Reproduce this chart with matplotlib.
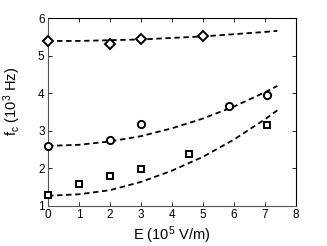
import matplotlib
matplotlib.use("Agg")
import matplotlib.pyplot as plt

plt.rcParams['font.family'] = ['Liberation Sans', 'DejaVu Sans']
plt.rcParams['mathtext.fontset'] = 'custom'
plt.rcParams['mathtext.rm'] = 'Liberation Sans'
plt.rcParams['mathtext.it'] = 'Liberation Sans:italic'

# Measured data
E_diamond = [0, 2, 3, 5]
fc_diamond = [5.40, 5.33, 5.44, 5.54]
E_circle = [0, 2, 3, 5.84, 7.05]
fc_circle = [2.59, 2.77, 3.18, 3.67, 3.97]
E_square = [0, 1, 2, 3, 4.54, 7.05]
fc_square = [1.28, 1.58, 1.79, 1.98, 2.39, 3.16]

# Fit curves
E_fit = [0, 1, 2, 3, 4, 5, 6, 7, 7.4]
fit_diamond = [5.40, 5.40, 5.42, 5.44, 5.48, 5.52, 5.58, 5.64, 5.67]
fit_circle = [2.60, 2.63, 2.72, 2.86, 3.07, 3.33, 3.65, 4.03, 4.20]
fit_square = [1.27, 1.31, 1.42, 1.64, 1.94, 2.31, 2.77, 3.31, 3.55]

xticks = [0, 1, 2, 3, 4, 5, 6, 7, 8]
yticks = [1, 2, 3, 4, 5, 6]

fig = plt.figure(figsize=(3.27, 2.46), dpi=100)
ax = fig.add_axes([0.147, 0.163, 0.758, 0.762])

for yf in (fit_diamond, fit_circle, fit_square):
    ax.plot(E_fit, yf, color='black', lw=1.3, dashes=(3, 2), zorder=2)

mk = dict(linestyle='none', mfc='white', mec='black', mew=1.4, zorder=3, clip_on=False)
ax.plot(E_diamond, fc_diamond, marker='D', ms=4.6, **mk)
ax.plot(E_circle, fc_circle, marker='o', ms=5.2, **mk)
ax.plot(E_square, fc_square, marker='s', ms=3.8, **mk)

ax.set_xlim(0, 8)
ax.set_ylim(1, 6)
ax.set_xticks(xticks)
ax.set_yticks(yticks)
ax.tick_params(direction='in', top=True, right=True, labelsize=8.5, length=3, width=0.6, pad=2.5)
for name, s in ax.spines.items():
    s.set_linewidth(0.8)
    if name in ('left', 'bottom'):
        s.set_color('#555555')
ax.set_xlabel('E (10$^5$ V/m)', fontsize=10.5, labelpad=2)
ax.set_ylabel('f$_\\mathrm{c}$ (10$^3$ Hz)', fontsize=10.5)
ax.yaxis.set_label_coords(-0.1, 0.555)

fig.savefig('out.png', dpi=100)
